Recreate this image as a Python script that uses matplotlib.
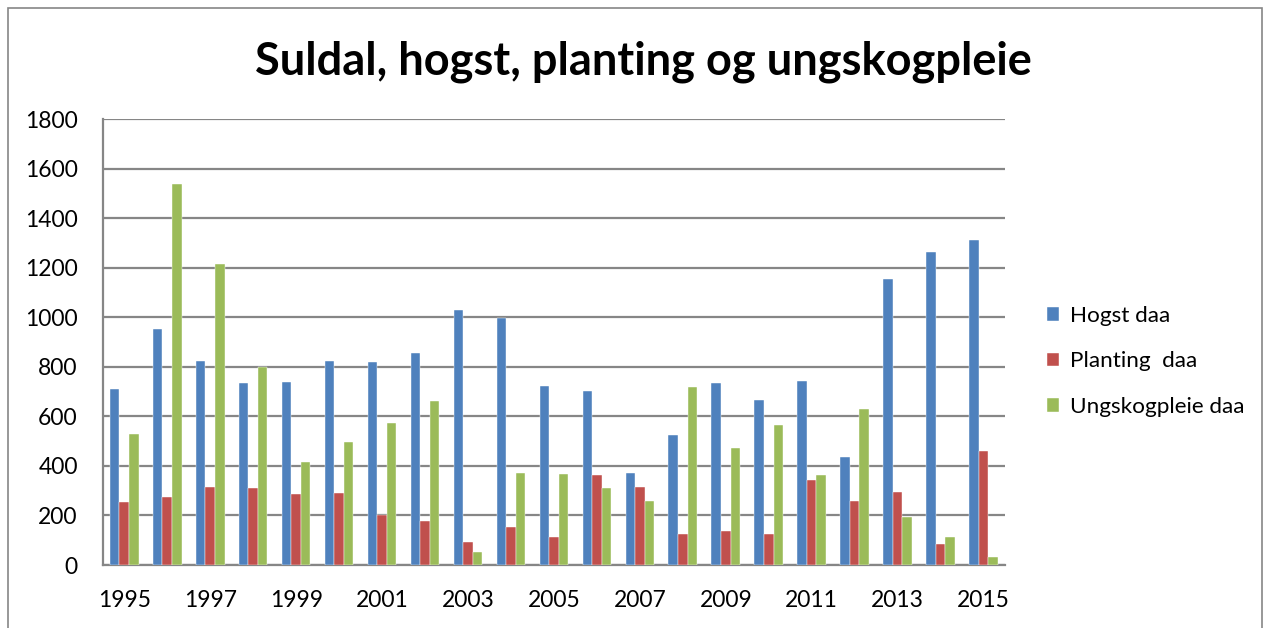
import matplotlib
matplotlib.use("Agg")
import matplotlib.pyplot as plt
from matplotlib.patches import Rectangle
import numpy as np

years = list(range(1995, 2016))
hogst = [712, 954, 825, 734, 737, 823, 819, 856, 1028, 995, 723,
         703, 370, 525, 735, 664, 741, 435, 1153, 1262, 1310]
planting = [253, 273, 315, 312, 285, 289, 200, 176, 93, 153, 112,
            363, 315, 125, 136, 125, 345, 257, 294, 86, 459]
ungskog = [527, 1539, 1215, 798, 417, 496, 575, 662, 54, 371, 367,
           312, 257, 719, 474, 564, 362, 628, 193, 113, 32]
series_names = ["Hogst daa", "Planting  daa", "Ungskogpleie daa"]
series_colors = ["#4F81BD", "#C0504D", "#9BBB59"]
x_labels = [str(y) if (y - 1995) % 2 == 0 else "" for y in years]
y_ticks = list(range(0, 2000, 200))

plt.rcParams["font.family"] = ["Lato", "DejaVu Sans"]
grid_color = "#868686"

fig = plt.figure(figsize=(12.69, 6.28), dpi=100)
ax = fig.add_axes([0.081, 0.1003, 0.711, 0.7102])

x = np.arange(len(years))
w = 1 / 4.5
for i, (vals, name, col) in enumerate(zip([hogst, planting, ungskog], series_names, series_colors)):
    ax.bar(x + (i - 1) * w, vals, width=w, color=col, label=name, zorder=3,
           edgecolor="white", linewidth=0.3)

ax.set_xlim(-0.5, len(years) - 0.5)
ax.set_ylim(0, 1800)
ax.set_yticks(y_ticks)
ax.set_xticks(x)
ax.set_xticklabels(x_labels)
ax.yaxis.grid(True, color=grid_color, linewidth=1.6, zorder=0)
ax.tick_params(axis="both", length=0, labelsize=16.5)
ax.tick_params(axis="y", pad=18)
ax.tick_params(axis="x", pad=18)
for side in ["top", "right"]:
    ax.spines[side].set_visible(False)
for side in ["left", "bottom"]:
    ax.spines[side].set_color(grid_color)
    ax.spines[side].set_linewidth(1.6)

fig.suptitle("Suldal, hogst, planting og ungskogpleie", x=0.507, y=0.935,
             fontsize=32.5, fontweight="bold")

fig.legend(loc="upper left", bbox_to_anchor=(0.809, 0.545), frameon=False,
           fontsize=16.2, handlelength=0.55, handleheight=0.55, handletextpad=0.5,
           labelspacing=1.13)

border = Rectangle((8 / 1269, -0.05), 1254 / 1269, 1.05 - 8 / 628,
                   transform=fig.transFigure, fill=False, edgecolor=grid_color,
                   linewidth=1.2, clip_on=False)
fig.add_artist(border)

fig.savefig("out.png", dpi=100)
